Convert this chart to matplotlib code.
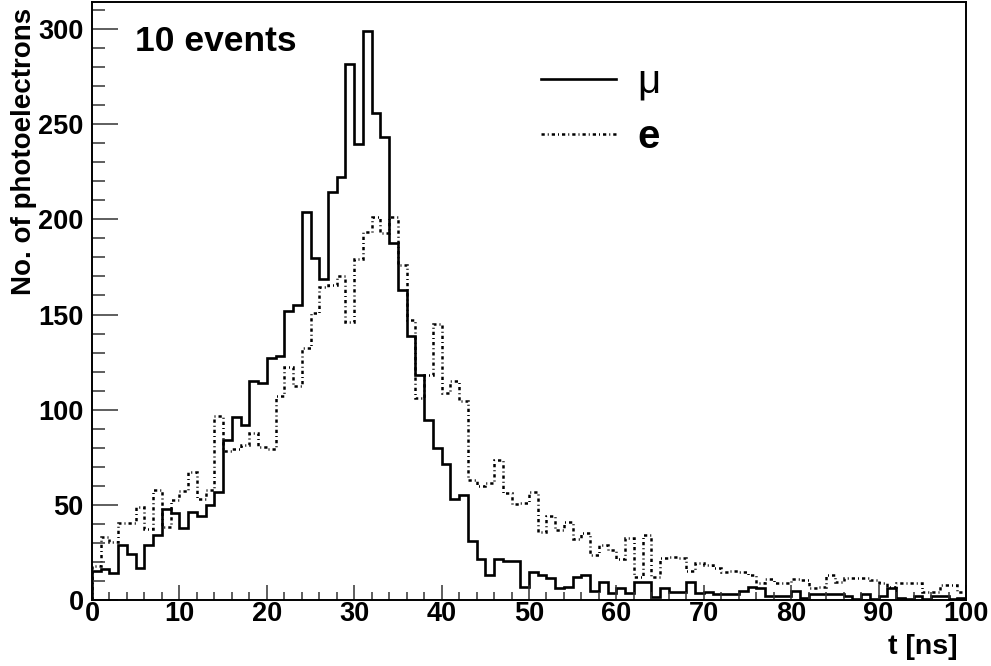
import numpy as np
import matplotlib
matplotlib.use("Agg")
import matplotlib.pyplot as plt
from matplotlib.ticker import MultipleLocator
from matplotlib.lines import Line2D

# ---- data (photoelectrons per 1 ns bin, 0..100 ns) ----
bin_edges = np.arange(0, 101, 1)
mu_counts = [15.4, 16.5, 14, 29, 24, 17, 29, 34, 48, 45.5,
             38, 46, 44, 50, 57, 84, 96, 92, 115, 114,
             127, 128, 152, 155, 204, 179.5, 168.5, 214.5, 222.5, 281.5,
             239.5, 299, 256, 243.5, 187.5, 163, 138.5, 118, 94.5, 80,
             71.5, 53, 55, 31, 21.5, 13, 21.5, 20.5, 20.5, 7,
             14.5, 13, 11.5, 6.5, 7, 12.3, 13.3, 4.9, 9.3, 3.9,
             6.5, 3.9, 9.3, 9.3, 1.75, 6.1, 4, 4, 9.3, 3.9,
             4, 3.2, 3.2, 3.2, 4.9, 7, 6.5, 2.1, 2.1, 2.1,
             4.9, 1.2, 3.2, 3.2, 3.2, 3.2, 2.1, 0.3, 3.2, 0.3,
             2.1, 6.1, 1.2, 0.3, 2, 0.3, 2, 2, 0.3, 1.2]
e_counts = [18, 33, 30.5, 40.5, 40.5, 49, 37.5, 58, 38.5, 52.5,
            57.5, 67.4, 53, 58, 96.5, 78.5, 79.5, 81.5, 88, 80.6,
            79.2, 107, 122.5, 112.5, 132.3, 151, 164.5, 165.5, 170, 146.3,
            179.3, 193.5, 201.2, 192.7, 201.2, 176.2, 147, 106.3, 118.2, 144.9,
            108.6, 115.3, 104.6, 63, 60, 61.7, 73.4, 56.2, 50.6, 51,
            56.9, 35.5, 44.3, 36.8, 41.2, 31.8, 35, 23.6, 28.9, 26.3,
            21.4, 32.4, 12.3, 34.2, 12.3, 21.9, 22.8, 21.9, 15.4, 19.6,
            18.4, 16.6, 14.9, 15.4, 14.9, 13.1, 9.1, 11, 9.1, 8.8,
            11, 10.5, 6.1, 7, 13.1, 9.6, 11.7, 11.7, 11.4, 10.5,
            9.1, 7, 9.1, 8.8, 8.8, 4.4, 4.4, 7.9, 7.9, 4.4]
series_labels = ["\u03bc", "e"]
annotation = "10 events"
x_title = "t [ns]"
y_title = "No. of photoelectrons"

plt.rcParams['font.family'] = ['Liberation Sans', 'DejaVu Sans']

W, H = 991, 666
fig = plt.figure(figsize=(W / 100, H / 100), dpi=100)
L, R, B, T = 92, 966, 600, 2
ax = fig.add_axes([L / W, 1 - B / H, (R - L) / W, (B - T) / H])

dash_style = (0, (1.3, 1.2, 0.4, 1.2))
ax.stairs(mu_counts, bin_edges, color='black', linewidth=1.9, baseline=0)
ax.stairs(e_counts, bin_edges, color='black', linewidth=1.8,
          linestyle=dash_style, baseline=0)

ax.set_xlim(0, 100)
ax.set_ylim(0, 314.2)

ax.xaxis.set_major_locator(MultipleLocator(10))
ax.xaxis.set_minor_locator(MultipleLocator(2))
ax.yaxis.set_major_locator(MultipleLocator(50))
ax.yaxis.set_minor_locator(MultipleLocator(10))
ax.tick_params(axis='both', which='both', direction='in', top=False, right=False,
               width=1.1, color='#333333')
ax.tick_params(axis='y', which='major', length=18.5, pad=6)
ax.tick_params(axis='y', which='minor', length=9.5)
ax.tick_params(axis='x', which='major', length=11, pad=1)
ax.tick_params(axis='x', which='minor', length=5.5)
for lab in ax.get_xticklabels() + ax.get_yticklabels():
    lab.set_fontweight('bold')
    lab.set_fontsize(19.5)
for s in ax.spines.values():
    s.set_linewidth(1.4)

fig.text(958 / W, 1 - 647 / H, x_title, ha='right', va='center',
         fontsize=20.5, fontweight='bold')
fig.text(24 / W, 1 - 8 / H, y_title, ha='center', va='top', rotation=90,
         fontsize=20, fontweight='bold')
fig.text(135 / W, 1 - 51 / H, annotation, ha='left', va='baseline',
         fontsize=25.5, fontweight='bold')

handles = [Line2D([], [], color='black', linewidth=1.9),
           Line2D([], [], color='black', linewidth=1.8, linestyle=dash_style)]
leg = ax.legend(handles, series_labels, loc='upper left',
                bbox_to_anchor=(541 / W, 1 - 63 / H), bbox_transform=fig.transFigure,
                frameon=False, fontsize=29, handlelength=1.85, handletextpad=0.55,
                labelspacing=0.42, borderpad=0, borderaxespad=0)
leg.get_texts()[1].set_fontweight('bold')

fig.savefig('out.png', dpi=100)
